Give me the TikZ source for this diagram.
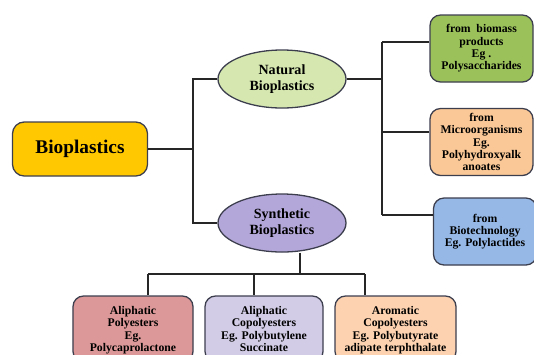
\documentclass[tikz,border=0pt]{standalone}
\usepackage{fontspec}
\setmainfont{Liberation Serif}
\usetikzlibrary{shapes.geometric, calc}
\definecolor{cgold}{HTML}{FFC800}
\definecolor{cleaf}{HTML}{D6E8B0}
\definecolor{clav}{HTML}{B3A6D8}
\definecolor{cgreen}{HTML}{9BC25A}
\definecolor{cpeach}{HTML}{FAC896}
\definecolor{cblue}{HTML}{95B8E6}
\definecolor{crose}{HTML}{DC9898}
\definecolor{clilac}{HTML}{D2CCE6}
\definecolor{ccream}{HTML}{FCD2B0}
\definecolor{cborder}{HTML}{3C3E4E}
\tikzset{
  every picture/.style={font=\bfseries, line width=1.1pt},
  box/.style={draw=cborder, fill=#1, rounded corners=9pt, align=center, inner sep=1pt, font=\bfseries\fontsize{10}{10.5}\selectfont},
  box/.default=white,
  oval/.style={ellipse, draw=cborder, fill=#1, align=center, inner sep=0pt, minimum width=3.84cm, minimum height=1.74cm, font=\bfseries\fontsize{12}{13}\selectfont},
  link/.style={draw=black!85, line width=1.2pt},
}
\begin{document}
\begin{tikzpicture}[x=0.03cm, y=-0.03cm,
  rb/.style={box=#1, minimum width=3.09cm, minimum height=2.01cm},
  bb/.style={box=#1, minimum width=3.6cm, minimum height=1.98cm, text depth=0pt}]
  \useasboundingbox (0,0) rectangle (534,354);
  \clip (0,0) rectangle (534,354);
  % main node and the two kinds
  \node[box=cgold, rounded corners=10pt, minimum width=4.05cm, minimum height=1.62cm, font=\bfseries\fontsize{16.5}{18}\selectfont] (bio) at (80,149) {Bioplastics};
  \node[oval=cleaf] (nat) at (282,79) {Natural\\Bioplastics};
  \node[oval=clav] (syn) at (282,223) {Synthetic\\Bioplastics};
  % natural sources
  \node[rb=cgreen] (src1) at (481.5,48.5) {from\ \ biomass\\products\\Eg .\\Polysaccharides};
  \node[rb=cpeach] (src2) at (481.5,142) {from\\Microorganisms\\Eg.\\Polyhydroxyalk\\anoates};
  \node[rb=cblue] (src3) at (485,231.5) {from\\Biotechnology\\Eg. Polylactides};
  % synthetic kinds
  \node[bb=crose] (syn1) at (133,329) {Aliphatic\\Polyesters\\Eg.\\Polycaprolactone};
  \node[bb=clilac, minimum width=3.54cm] (syn2) at (264,329) {Aliphatic\\Copolyesters\\Eg. Polybutylene\\Succinate};
  \node[bb=ccream, minimum width=3.63cm] (syn3) at (395.5,329) {Aromatic\\Copolyesters\\Eg. Polybutyrate\\adipate terphthalate};
  % joints
  \coordinate (jl) at (193,149);
  \coordinate (jr) at (382,79);
  \coordinate (t1) at (382,42);
  \coordinate (t2) at (382,132);
  \coordinate (t3) at (382,215);
  \coordinate (jb) at (300,274);
  \coordinate (d1) at (148,274);
  \coordinate (d2) at (254,274);
  \coordinate (d3) at (365,274);
  % connectors
  \draw[link] (bio.east) -- (jl);
  \draw[link] (nat.west) -| (jl) |- (syn.west);
  \draw[link] (nat.east) -- (jr);
  \draw[link] (t1) -- (t3);
  \draw[link] (t1) -- (t1 -| src1.west);
  \draw[link] (t2) -- (t2 -| src2.west);
  \draw[link] (t3) -- (t3 -| src3.west);
  \draw[link] (jb |- syn.south) -- (jb);
  \draw[link] (d1) -- (d3);
  \draw[link] (d1) -- (d1 |- syn1.north);
  \draw[link] (d2) -- (d2 |- syn2.north);
  \draw[link] (d3) -- (d3 |- syn3.north);
\end{tikzpicture}
\end{document}
